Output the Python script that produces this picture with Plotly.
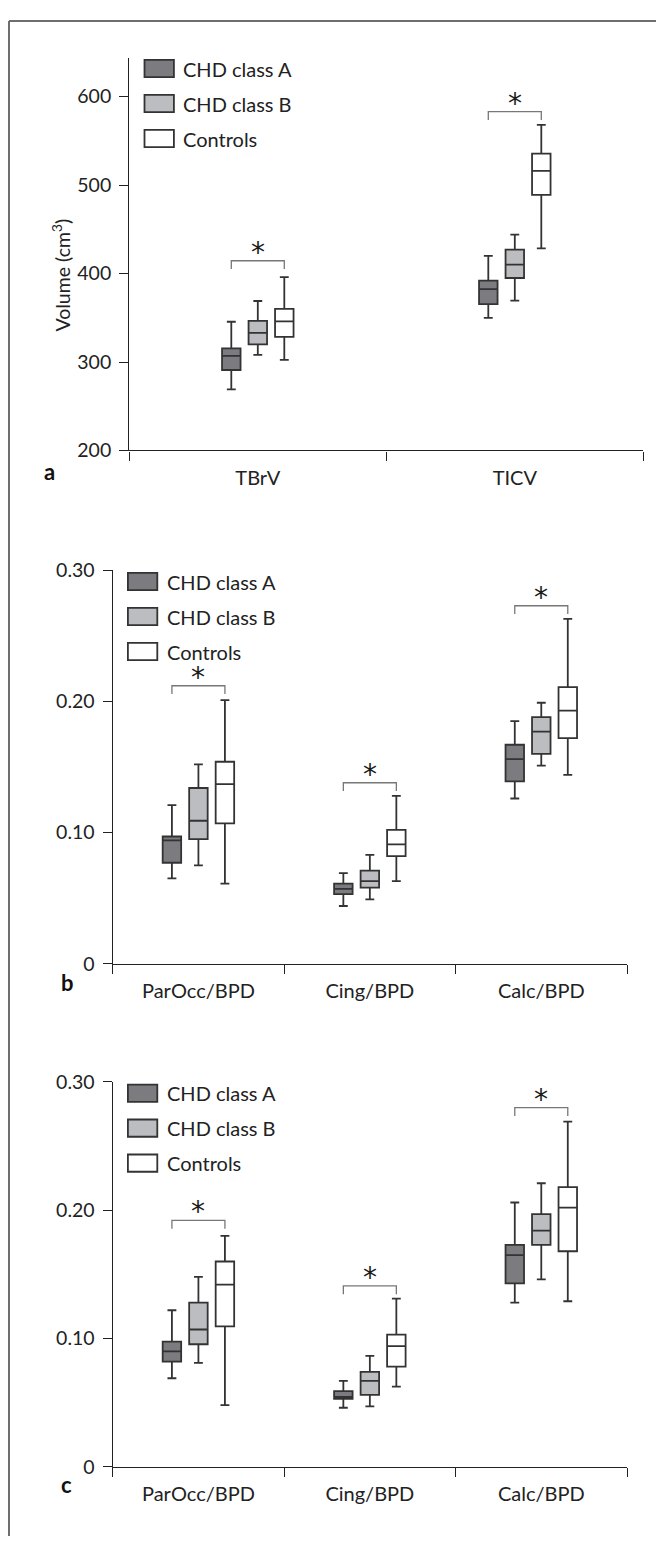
import numpy as np
import plotly.graph_objects as go

# The page body has an 8 px default margin, so the figure is sized to fit
# inside the 664x1555 window and all reference-pixel positions are shifted.
PAGE_W, PAGE_H = 664, 1555
BODY = 8
W, H = PAGE_W - 2 * BODY, PAGE_H - 2 * BODY

# ---------------- data ----------------
groups = ["CHD class A", "CHD class B", "Controls"]

cats_a = ["TBrV", "TICV"]
a_low = [[269, 350], [308, 369.5], [302.5, 428.5]]
a_q1 = [[291, 365.5], [320, 395], [328.5, 489]]
a_med = [[307, 382.5], [333, 410], [346, 516]]
a_q3 = [[315.5, 392], [346.5, 427], [360, 535.5]]
a_up = [[345.5, 420], [369, 444], [396, 568]]
a_sig = [414.5, 583]
a_yticks = [200, 300, 400, 500, 600]

cats_b = ["ParOcc/BPD", "Cing/BPD", "Calc/BPD"]
b_low = [[0.065, 0.044, 0.126], [0.075, 0.049, 0.151], [0.061, 0.063, 0.144]]
b_q1 = [[0.077, 0.053, 0.139], [0.095, 0.058, 0.160], [0.107, 0.082, 0.172]]
b_med = [[0.094, 0.057, 0.156], [0.109, 0.063, 0.177], [0.137, 0.091, 0.193]]
b_q3 = [[0.097, 0.061, 0.167], [0.134, 0.071, 0.188], [0.154, 0.102, 0.211]]
b_up = [[0.121, 0.069, 0.185], [0.152, 0.083, 0.199], [0.201, 0.128, 0.263]]
b_sig = [0.212, 0.138, 0.273]

cats_c = ["ParOcc/BPD", "Cing/BPD", "Calc/BPD"]
c_low = [[0.069, 0.046, 0.128], [0.081, 0.047, 0.146], [0.048, 0.0625, 0.129]]
c_q1 = [[0.082, 0.053, 0.143], [0.0955, 0.056, 0.173], [0.1095, 0.078, 0.168]]
c_med = [[0.090, 0.0545, 0.165], [0.107, 0.067, 0.184], [0.142, 0.094, 0.202]]
c_q3 = [[0.0975, 0.059, 0.173], [0.128, 0.074, 0.197], [0.160, 0.103, 0.218]]
c_up = [[0.122, 0.067, 0.206], [0.148, 0.0865, 0.221], [0.180, 0.131, 0.269]]
c_sig = [0.192, 0.141, 0.280]

ratio_yticks = [0, 0.1, 0.2, 0.3]
ratio_ticktext = ["0", "0.10", "0.20", "0.30"]

# ---------------- style ----------------
FONT = "Lato"
TXT = "#222222"
fills = ["#7b7b80", "#bcbdc0", "#ffffff"]
BOX_LINE = "#333333"
BOX_PX = 18.5      # box width (px)
SLOT_PX = 26.5     # distance between neighbouring box centres (px)
LEG_PX = 8.5       # bracket leg length (px)


def px2x(px):
    return (px - BODY) / W


def px2y(py):
    return 1 - (py - BODY) / H


panels = [
    dict(letter="a", cats=cats_a, low=a_low, q1=a_q1, med=a_med, q3=a_q3, up=a_up, sig=a_sig,
         xpx=(129.3, 643.3), ypx=(47, 445), yrange=[200, 200 + (445 - 47) / 0.898],
         yticks=a_yticks, yticktext=[str(v) for v in a_yticks],
         letter_pos=(49.5, 466), legend_top=48.5),
    dict(letter="b", cats=cats_b, low=b_low, q1=b_q1, med=b_med, q3=b_q3, up=b_up, sig=b_sig,
         xpx=(112.7, 627.0), ypx=(566.7, 966), yrange=[0, 0.30],
         yticks=ratio_yticks, yticktext=ratio_ticktext,
         letter_pos=(67.5, 985), legend_top=569.3),
    dict(letter="c", cats=cats_c, low=c_low, q1=c_q1, med=c_med, q3=c_q3, up=c_up, sig=c_sig,
         xpx=(112.7, 627.0), ypx=(1086, 1476.7), yrange=[0, 0.30],
         yticks=ratio_yticks, yticktext=ratio_ticktext,
         letter_pos=(66.5, 1495), legend_top=1088.7),
]

fig = go.Figure()
shapes = []
annotations = []

for pi, p in enumerate(panels):
    sfx = "" if pi == 0 else str(pi + 1)
    xa, ya = "x" + sfx, "y" + sfx
    ncat = len(p["cats"])
    pos = np.arange(ncat)
    px_per_cat = (p["xpx"][1] - p["xpx"][0]) / ncat
    px_per_unit_y = (p["ypx"][1] - p["ypx"][0]) / (p["yrange"][1] - p["yrange"][0])
    off = SLOT_PX / px_per_cat
    bw = BOX_PX / px_per_cat

    for g in range(3):
        fig.add_trace(go.Box(
            x=pos + (g - 1) * off,
            q1=p["q1"][g], median=p["med"][g], q3=p["q3"][g],
            lowerfence=p["low"][g], upperfence=p["up"][g],
            width=bw, whiskerwidth=0.48,
            fillcolor=fills[g], line=dict(color=BOX_LINE, width=1.8),
            boxpoints=False, name=groups[g], showlegend=False,
            xaxis=xa, yaxis=ya, hoverinfo="skip",
        ))

    # significance brackets: CHD class A vs controls
    leg = LEG_PX / px_per_unit_y
    for ci in range(ncat):
        top = p["sig"][ci]
        xl, xr = pos[ci] - off, pos[ci] + off
        fig.add_trace(go.Scatter(
            x=[xl, xl, xr, xr], y=[top - leg, top, top, top - leg],
            mode="lines", line=dict(color="#777777", width=1.3),
            showlegend=False, hoverinfo="skip", xaxis=xa, yaxis=ya,
        ))
        annotations.append(dict(
            x=pos[ci], y=top, xref=xa, yref=ya, text="*", showarrow=False,
            font=dict(family="DejaVu Sans", size=28, color="#1a1a1a"),
            yanchor="bottom", xanchor="center", yshift=-10,
        ))

    xdom = [px2x(p["xpx"][0]), px2x(p["xpx"][1])]
    ydom = [px2y(p["ypx"][1]), px2y(p["ypx"][0])]
    fig.update_layout(**{
        "xaxis" + sfx: dict(
            domain=xdom, anchor=ya, range=[-0.5, ncat - 0.5],
            tickmode="array", tickvals=list(pos), ticktext=p["cats"],
            ticks="outside", ticklen=9, tickcolor="rgba(0,0,0,0)",
            minor=dict(tickmode="array", tickvals=list(np.arange(ncat + 1) - 0.5),
                       ticks="outside", ticklen=9, tickcolor=TXT, tickwidth=1.3),
            showline=True, linecolor=TXT, linewidth=1.3,
            showgrid=False, zeroline=False,
            tickfont=dict(family=FONT, size=20, color=TXT),
        ),
        "yaxis" + sfx: dict(
            domain=ydom, anchor=xa, range=p["yrange"],
            tickmode="array", tickvals=p["yticks"], ticktext=p["yticktext"],
            ticks="outside", ticklen=9, tickcolor=TXT, tickwidth=1.3,
            ticklabelstandoff=4,
            showline=True, linecolor=TXT, linewidth=1.3,
            showgrid=False, zeroline=False,
            tickfont=dict(family=FONT, size=19.5, color=TXT),
        ),
    })

    # panel letter
    lx, ly = p["letter_pos"]
    annotations.append(dict(
        x=px2x(lx), y=px2y(ly), xref="paper", yref="paper", text="<b>%s</b>" % p["letter"],
        showarrow=False, font=dict(family=FONT, size=22, color="#111111"),
        xanchor="center", yanchor="middle",
    ))

    # legend drawn as swatches + labels
    ax0 = p["xpx"][0]
    for g in range(3):
        t = p["legend_top"] + g * 35.5
        shapes.append(dict(
            type="rect", xref="paper", yref="paper",
            x0=px2x(ax0 + 15.2), x1=px2x(ax0 + 44.6), y0=px2y(t + 17.5), y1=px2y(t),
            fillcolor=fills[g], line=dict(color=BOX_LINE, width=1.8), layer="above",
        ))
        annotations.append(dict(
            x=px2x(ax0 + 52), y=px2y(t + 9), xref="paper", yref="paper", text=groups[g],
            showarrow=False, font=dict(family=FONT, size=20, color=TXT),
            xanchor="left", yanchor="middle",
        ))

# y title for panel a
annotations.append(dict(
    x=px2x(61.4), y=px2y(267), xref="paper", yref="paper",
    text="Volume (cm<sup>3</sup>)", textangle=-90, showarrow=False,
    font=dict(family=FONT, size=19.5, color=TXT), xanchor="center", yanchor="middle",
))

# outer frame (top and left edges)
shapes.append(dict(type="line", xref="paper", yref="paper", x0=px2x(BODY + 1), x1=1,
                   y0=px2y(BODY + 1), y1=px2y(BODY + 1), line=dict(color="#6e6e6e", width=2)))
shapes.append(dict(type="line", xref="paper", yref="paper", x0=px2x(BODY + 1), x1=px2x(BODY + 1),
                   y0=px2y(BODY + 1), y1=0, line=dict(color="#6e6e6e", width=2)))

fig.update_layout(
    width=W, height=H, margin=dict(l=0, r=0, t=0, b=0),
    paper_bgcolor="white", plot_bgcolor="white",
    boxmode="overlay", showlegend=False,
    shapes=shapes, annotations=annotations,
    font=dict(family=FONT, color=TXT),
)

fig.write_html("out.html")
